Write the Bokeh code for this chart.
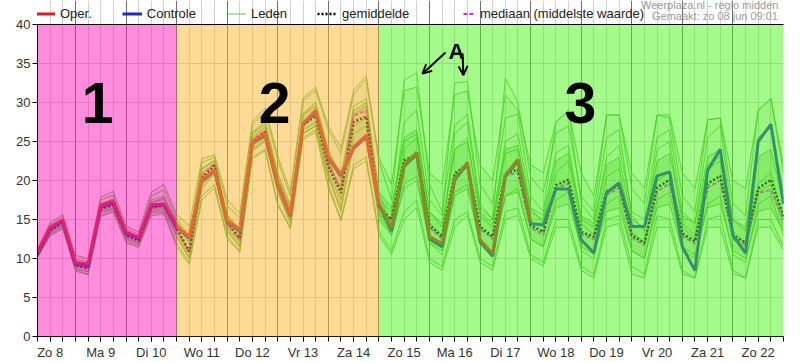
from bokeh.plotting import figure
from bokeh.models import (Range1d, FixedTicker, Grid, BoxAnnotation, Label, Arrow,
                          OpenHead, Legend, LegendItem)
from bokeh.embed import file_html
from bokeh.resources import INLINE

FONT = "Liberation Sans"

# time axis: hours after Zo 8 00:00, every 6 hours
hours = [6, 12, 18, 24, 30, 36, 42, 48, 54, 60, 66, 72, 78, 84, 90, 96, 102, 108, 114, 120,
         126, 132, 138, 144, 150, 156, 162, 168, 174, 180, 186, 192, 198, 204, 210, 216, 222,
         228, 234, 240, 246, 252, 258, 264, 270, 276, 282, 288, 294, 300, 306, 312, 318, 324,
         330, 336, 342, 348, 354, 360]
midnights = [24, 48, 72, 96, 120, 144, 168, 192, 216, 240, 264, 288, 312, 336]
day_noons = [12, 36, 60, 84, 108, 132, 156, 180, 204, 228, 252, 276, 300, 324, 348]
day_labels = ["Zo 8", "Ma 9", "Di 10", "Wo 11", "Do 12", "Vr 13", "Za 14", "Zo 15",
              "Ma 16", "Di 17", "Wo 18", "Do 19", "Vr 20", "Za 21", "Zo 22"]
y_ticks = [0, 5, 10, 15, 20, 25, 30, 35, 40]
Y_MAX = 40
X_MIN, X_MAX = 6, 360

# operational run (10 days)
oper = [10.8, 14.0, 14.9, 9.5, 9.3, 16.8, 17.3, 13.4, 12.7, 16.9, 17.0, 14.2, 12.8, 20.1,
        21.4, 14.9, 13.7, 25.0, 26.0, 19.6, 15.6, 27.3, 29.0, 23.0, 20.8, 24.3, 25.8, 17.1,
        13.9, 22.0, 23.6, 12.8, 11.9, 20.3, 22.3, 12.4, 10.6, 20.7, 22.7, 14.7]
# control run
controle = [10.7, 13.8, 14.8, 9.3, 9.1, 16.6, 17.1, 13.2, 12.6, 16.7, 16.9, 14.0, 12.6, 19.9,
            21.2, 14.7, 13.5, 24.8, 25.8, 19.4, 15.4, 27.1, 28.8, 22.8, 20.6, 24.1, 25.6, 16.9,
            13.5, 21.8, 23.4, 12.5, 11.5, 20.1, 22.1, 12.1, 10.3, 20.5, 22.5, 14.5, 14.3, 18.9,
            18.9, 12.4, 10.7, 18.4, 19.7, 14.1, 14.1, 20.6, 21.1, 11.5, 8.45, 21.3, 24.0, 13.0,
            10.7, 25.0, 27.2, 17.0]
gemiddelde = [10.5, 13.6, 14.6, 9.1, 8.8, 16.4, 16.9, 13.0, 12.3, 16.6, 16.8, 13.9, 10.9, 20.3,
              21.9, 14.6, 12.6, 25.0, 26.2, 19.8, 15.8, 27.1, 28.3, 21.8, 18.4, 27.5, 28.2, 16.6,
              15.0, 22.6, 23.3, 14.3, 12.8, 20.9, 22.1, 14.1, 12.8, 20.9, 21.4, 14.3, 13.4, 19.4,
              20.1, 13.4, 12.8, 18.6, 19.4, 13.0, 12.0, 19.1, 20.1, 13.2, 12.2, 19.6, 20.6, 13.0,
              12.0, 19.0, 20.1, 15.4]
mediaan = [10.6, 13.7, 14.7, 9.2, 8.9, 16.5, 17.0, 13.1, 12.4, 16.7, 16.9, 13.6, 10.7, 20.6,
           22.2, 14.4, 12.4, 25.2, 26.4, 19.6, 15.6, 27.4, 28.6, 22.2, 18.8, 28.3, 29.0, 16.4,
           14.8, 22.4, 23.0, 14.0, 12.5, 20.6, 21.8, 13.8, 12.5, 20.6, 21.0, 14.0, 13.0, 19.0,
           19.6, 13.1, 12.5, 18.2, 19.0, 12.7, 11.7, 18.6, 19.6, 12.9, 11.9, 19.1, 20.0, 12.7,
           11.7, 18.4, 18.8, 15.0]

# ensemble members: outer envelope, core band and some individual members
leden_max = [11.3, 14.6, 15.6, 10.4, 10.0, 17.9, 18.6, 14.2, 13.4, 18.5, 19.5, 15.7, 14.2, 22.8,
             23.3, 17.6, 15.8, 27.6, 29.3, 23.2, 18.6, 30.6, 32.0, 27.0, 24.2, 31.6, 33.4, 23.0,
             19.5, 31.5, 32.0, 21.0, 19.5, 31.0, 31.5, 22.0, 20.0, 31.0, 29.0, 22.0, 21.0, 27.5,
             29.0, 21.0, 18.0, 28.4, 28.4, 21.0, 19.0, 28.4, 28.4, 21.0, 19.0, 27.8, 28.0, 20.0,
             19.0, 29.0, 30.5, 22.0]
leden_min = [10.1, 12.9, 13.8, 8.4, 7.9, 15.4, 15.9, 12.0, 11.4, 15.5, 15.7, 11.5, 9.2, 17.5,
             19.0, 12.5, 10.8, 22.8, 23.8, 16.8, 13.8, 25.2, 26.2, 19.0, 14.8, 21.5, 22.5, 13.0,
             10.5, 15.0, 16.5, 9.5, 8.5, 14.0, 15.5, 9.5, 8.5, 15.0, 15.5, 10.0, 9.0, 14.0, 14.0,
             8.5, 7.5, 14.0, 14.5, 8.0, 7.5, 14.0, 14.0, 8.0, 7.5, 14.0, 14.0, 8.0, 7.5, 14.0,
             14.0, 11.0]
kern_max = [10.9, 14.1, 15.1, 9.6, 9.3, 17.0, 17.6, 13.5, 12.8, 17.2, 17.6, 14.8, 12.2, 21.6,
            22.6, 15.6, 13.8, 26.2, 27.6, 21.0, 16.8, 28.6, 30.0, 24.0, 20.5, 29.0, 30.0, 18.5,
            16.5, 25.5, 26.5, 16.0, 14.5, 24.0, 25.0, 16.0, 14.5, 24.0, 24.5, 16.0, 15.0, 22.5,
            23.5, 15.5, 14.5, 22.0, 23.0, 15.0, 14.0, 22.5, 23.5, 15.5, 14.5, 23.0, 24.0, 15.0,
            14.0, 23.0, 24.0, 17.0]
kern_min = [10.2, 13.2, 14.1, 8.7, 8.3, 15.9, 16.3, 12.5, 11.8, 16.0, 16.1, 12.8, 10.0, 19.0,
            20.8, 13.6, 11.5, 23.8, 25.0, 18.5, 14.8, 26.0, 27.0, 20.5, 16.5, 24.5, 25.5, 15.0,
            13.0, 19.5, 20.5, 12.0, 11.0, 18.0, 19.0, 12.0, 11.0, 18.0, 18.5, 12.5, 11.5, 16.5,
            17.0, 11.5, 10.5, 16.0, 16.5, 11.0, 10.0, 16.5, 17.0, 11.0, 10.0, 16.5, 17.0, 11.0,
            10.0, 16.0, 16.5, 13.5]
lid_1 = [10.9, 14.3, 15.3, 9.9, 9.6, 17.5, 18.1, 13.8, 13.1, 18.0, 18.8, 15.2, 12.8, 22.3, 23.0,
         16.8, 15.2, 27.2, 28.8, 22.6, 18.0, 30.2, 31.6, 26.5, 23.5, 31.0, 33.0, 22.5,
         17.5, 32.9, 33.8, 19.5, 16.0, 27.0, 28.5, 17.0, 15.0, 25.0, 26.0, 16.5, 14.5, 21.0,
         22.5, 14.5, 13.0, 20.5, 21.5, 13.5, 12.0, 20.0, 21.0, 14.0, 12.5, 22.0, 23.0, 13.5,
         12.0, 19.5, 21.0, 15.0]
lid_2 = [10.3, 13.3, 14.2, 8.7, 8.3, 16.0, 16.5, 12.6, 11.9, 16.2, 16.4, 13.0, 10.2, 19.5, 21.0,
         13.5, 11.5, 24.0, 25.2, 18.5, 14.5, 26.0, 27.0, 20.5, 16.0, 26.0, 27.0, 15.5,
         15.0, 27.5, 29.0, 17.5, 15.5, 32.5, 32.7, 19.5, 17.0, 28.0, 28.5, 18.0, 16.0, 27.5,
         29.0, 17.0, 15.0, 25.5, 26.5, 15.5, 13.5, 24.0, 25.0, 14.5, 13.0, 21.5, 22.5, 12.5,
         11.0, 18.5, 19.5, 14.0]
lid_3 = [10.6, 13.8, 14.9, 9.4, 9.0, 16.8, 17.5, 13.3, 12.6, 17.2, 17.8, 14.5, 12.0, 21.5, 22.5,
         15.5, 13.5, 26.0, 27.2, 20.5, 16.5, 28.5, 29.5, 23.5, 20.0, 29.5, 30.5, 18.5,
         14.0, 24.0, 25.5, 14.5, 13.0, 26.0, 27.5, 16.5, 15.0, 33.1, 30.0, 20.5, 18.5, 26.0,
         27.0, 18.0, 16.0, 28.4, 28.4, 19.0, 17.0, 28.4, 28.0, 18.0, 16.0, 27.8, 28.0, 17.0,
         15.5, 29.0, 30.5, 21.0]
lid_4 = [10.2, 13.0, 13.9, 8.5, 8.0, 15.6, 16.1, 12.2, 11.6, 15.8, 15.9, 12.0, 9.5, 18.0, 19.5,
         12.8, 11.0, 23.0, 24.0, 17.0, 14.0, 25.5, 26.5, 19.5, 15.0, 22.0, 23.0, 13.5,
         11.0, 16.0, 17.5, 10.0, 9.0, 15.0, 16.0, 10.0, 9.0, 16.0, 16.5, 10.5, 9.5, 15.0,
         15.0, 9.0, 8.0, 15.0, 15.5, 9.0, 8.0, 15.5, 15.0, 8.5, 7.5, 15.0, 15.5, 8.5, 7.5,
         15.0, 15.0, 11.5]
lid_5 = [10.7, 14.0, 15.0, 9.6, 9.2, 17.0, 17.6, 13.5, 12.8, 17.5, 18.0, 14.8, 12.5, 21.0, 22.0,
         15.0, 13.0, 25.5, 26.8, 20.0, 16.0, 27.5, 28.5, 22.5, 19.0, 28.5, 29.5, 17.5,
         16.0, 25.0, 26.0, 16.0, 14.0, 24.0, 25.5, 15.5, 14.0, 23.5, 24.0, 16.5, 15.5, 23.5,
         24.5, 15.0, 14.0, 23.0, 24.5, 16.0, 15.0, 25.5, 26.5, 16.0, 14.5, 25.5, 27.0, 15.0,
         13.5, 25.5, 27.0, 18.5]
lid_6 = [10.4, 13.5, 14.4, 9.0, 8.6, 16.2, 16.7, 12.8, 12.1, 16.4, 16.6, 13.5, 11.0, 20.0, 21.5,
         14.0, 12.0, 24.5, 25.5, 19.0, 15.0, 26.5, 27.5, 21.0, 17.5, 27.0, 28.0, 16.0,
         13.0, 19.0, 20.0, 12.0, 10.5, 18.5, 19.5, 12.0, 10.5, 18.0, 19.0, 12.5, 11.5, 17.5,
         18.5, 11.0, 10.0, 17.0, 18.0, 11.0, 10.0, 17.5, 18.5, 11.5, 10.5, 17.0, 18.0, 10.5,
         9.5, 17.0, 18.0, 13.0]

# colour zones (period 1, 2, 3) with their boundaries in hours
zone_edges = [(None, 72), (72, 168), (168, None)]
zone_colors = ["#ff19b9", "#fbb52d", "#4bf519"]
zone_names = ["1", "2", "3"]
zone_name_pos = [(34.5, 29.9), (118.5, 29.9), (263.6, 29.9)]
arrow_label_pos = (204.8, 36.6)
arrows = [((199.6, 36.4), (188.7, 33.7)), ((207.7, 36.3), (208.1, 33.5))]
credit_lines = ["Weerplaza.nl - regio midden", "Gemaakt: zo 08 jun 09:01"]

# layout: the frame also holds the header strip (legend, credits) above 40 degrees
FRAME_TOP_PX = 24      # header strip height inside the frame
FRAME_H = 336
y_top = Y_MAX * FRAME_H / (FRAME_H - FRAME_TOP_PX)

p = figure(width=800, height=362, output_backend="svg", toolbar_location=None,
           x_range=Range1d(X_MIN, X_MAX), y_range=Range1d(0, y_top),
           min_border_left=37, min_border_right=17, min_border_top=0, min_border_bottom=26)
p.background_fill_color = "white"
p.border_fill_color = "white"
p.outline_line_color = None

# axes
p.yaxis.ticker = FixedTicker(ticks=y_ticks)
p.yaxis.bounds = (0, Y_MAX)
p.xaxis.ticker = FixedTicker(ticks=day_noons, minor_ticks=hours)
p.xaxis.major_label_overrides = {h: lab for h, lab in zip(day_noons, day_labels)}
for ax in (p.xaxis, p.yaxis):
    ax.axis_line_color = "black"
    ax.major_tick_line_color = "black"
    ax.major_tick_in = 0
    ax.major_tick_out = 5
    ax.major_label_text_font = FONT
    ax.major_label_text_font_size = "13px"
    ax.major_label_text_color = "#333333"
p.yaxis.minor_tick_line_color = None
p.yaxis.major_label_standoff = 2
p.xaxis.minor_tick_line_color = "black"
p.xaxis.minor_tick_in = 0
p.xaxis.minor_tick_out = 5
p.xaxis.major_label_standoff = 3

# grids (limited to the plotting area below 40)
p.xgrid.ticker = FixedTicker(ticks=hours)
p.xgrid.bounds = (0, Y_MAX)
p.xgrid.grid_line_color = "#d0d0d0"
p.ygrid.ticker = FixedTicker(ticks=y_ticks)
p.ygrid.grid_line_color = "#d0d0d0"
p.add_layout(Grid(dimension=0, ticker=FixedTicker(ticks=midnights), bounds=(0, Y_MAX),
                  grid_line_color="#707070", grid_line_width=1))

# ensemble members
GREEN = "#3aa622"
p.varea(x=hours, y1=leden_min, y2=leden_max, fill_color=GREEN, fill_alpha=0.12)
p.varea(x=hours, y1=kern_min, y2=kern_max, fill_color=GREEN, fill_alpha=0.22)
member_renderers = []
for series in (leden_max, leden_min, kern_max, kern_min, lid_1, lid_2, lid_3, lid_4, lid_5, lid_6):
    r = p.line(hours, series, line_color=GREEN, line_width=1, line_alpha=0.75)
    member_renderers.append(r)

r_med = p.line(hours, mediaan, line_color="#e020e0", line_width=2, line_dash="4 2")
r_gem = p.line(hours, gemiddelde, line_color="black", line_width=2.5, line_dash="2 2")
r_con = p.line(hours, controle, line_color="#1c2bc0", line_width=3)
r_op = p.line(hours[:len(oper)], oper, line_color="#d61f26", line_width=3)
# invisible carrier for the credit texts (legend entries without a visible glyph)
r_blank = p.line(hours[:2], oper[:2], line_alpha=0)

# translucent period overlays (on top of the lines)
for (left, right), col in zip(zone_edges, zone_colors):
    p.add_layout(BoxAnnotation(left=left, right=right, top=Y_MAX, fill_color=col,
                               fill_alpha=0.5, line_color=None))

# frame border at top and right of the plotting area
p.add_layout(Grid(dimension=1, ticker=FixedTicker(ticks=[Y_MAX]), grid_line_color="black",
                  level="annotation"))
p.add_layout(Grid(dimension=0, ticker=FixedTicker(ticks=[X_MAX]), bounds=(0, Y_MAX),
                  grid_line_color="black", grid_line_width=2, level="annotation"))

for name, (x, y) in zip(zone_names, zone_name_pos):
    p.add_layout(Label(x=x, y=y, text=name, text_font=FONT, text_font_style="bold",
                       text_font_size="57px", text_color="black",
                       text_align="center", text_baseline="alphabetic"))
p.add_layout(Label(x=arrow_label_pos[0], y=arrow_label_pos[1], text="A", text_font=FONT,
                   text_font_style="bold", text_font_size="22px", text_color="black",
                   text_align="center", text_baseline="alphabetic"))
for (xs, ys), (xe, ye) in arrows:
    p.add_layout(Arrow(end=OpenHead(size=9, line_width=2, line_color="black"),
                       x_start=xs, y_start=ys, x_end=xe, y_end=ye,
                       line_width=2, line_color="black"))

# legend in the header strip (location = bottom-left corner, px from frame bottom)
legend_style = dict(orientation="horizontal", spacing=30, padding=0, margin=0,
                    glyph_height=13, label_standoff=5, label_height=13,
                    label_text_font=FONT, label_text_font_size="13px",
                    label_text_color="#222222", border_line_color=None,
                    background_fill_alpha=0)
p.add_layout(Legend(items=[
    LegendItem(label="Oper.", renderers=[r_op]),
    LegendItem(label="Controle", renderers=[r_con]),
    LegendItem(label="Leden", renderers=[member_renderers[4]]),
    LegendItem(label="gemiddelde", renderers=[r_gem]),
], location=(-2, 315), glyph_width=20, **legend_style))
p.add_layout(Legend(items=[LegendItem(label="mediaan (middelste waarde)", renderers=[r_med])],
                    location=(426, 315), glyph_width=12, **legend_style))

# credit lines at top right
for text, loc in zip(credit_lines, [(604, 325), (615, 314)]):
    p.add_layout(Legend(items=[LegendItem(label=text, renderers=[r_blank])],
                        location=loc, padding=0, margin=0, glyph_width=0, glyph_height=10,
                        label_standoff=0, label_height=10, label_text_font=FONT,
                        label_text_font_size="11px", label_text_color="#9a9a9a",
                        border_line_color=None, background_fill_alpha=0))

open("out.html", "w").write(file_html(p, INLINE))
